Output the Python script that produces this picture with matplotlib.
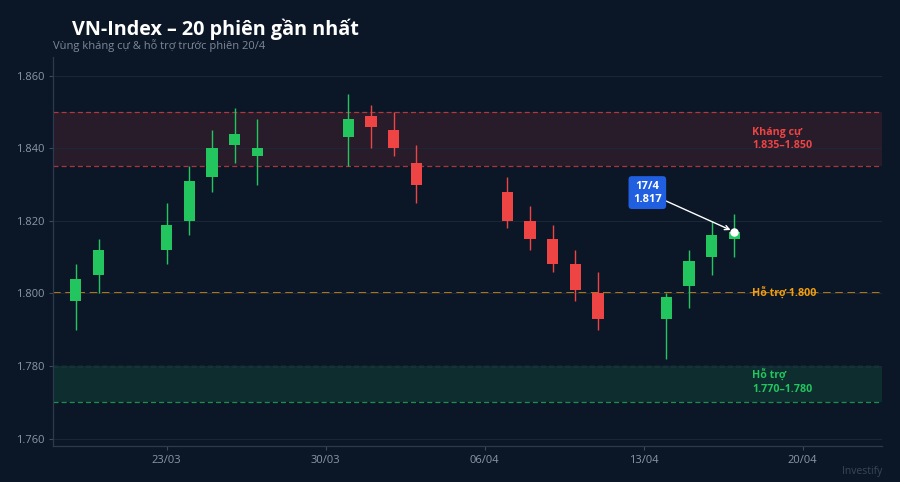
import matplotlib
matplotlib.use("Agg")
import matplotlib.pyplot as plt
import matplotlib.dates as mdates
from matplotlib.patches import Rectangle
import datetime as dt

plt.rcParams['font.family'] = ['Open Sans', 'DejaVu Sans']

# 20 sessions, OHLC
dates = ["2026-03-19", "2026-03-20", "2026-03-23", "2026-03-24", "2026-03-25",
         "2026-03-26", "2026-03-27", "2026-03-31", "2026-04-01", "2026-04-02",
         "2026-04-03", "2026-04-07", "2026-04-08", "2026-04-09", "2026-04-10",
         "2026-04-11", "2026-04-14", "2026-04-15", "2026-04-16", "2026-04-17"]
opens  = [1.798, 1.805, 1.812, 1.820, 1.832, 1.841, 1.838, 1.843, 1.849, 1.845,
          1.836, 1.828, 1.820, 1.815, 1.808, 1.800, 1.793, 1.802, 1.810, 1.815]
highs  = [1.808, 1.815, 1.825, 1.835, 1.845, 1.851, 1.848, 1.855, 1.852, 1.850,
          1.841, 1.832, 1.824, 1.819, 1.812, 1.806, 1.800, 1.812, 1.820, 1.822]
lows   = [1.790, 1.800, 1.808, 1.816, 1.828, 1.836, 1.830, 1.835, 1.840, 1.838,
          1.825, 1.818, 1.812, 1.806, 1.798, 1.790, 1.782, 1.796, 1.805, 1.810]
closes = [1.804, 1.812, 1.819, 1.831, 1.840, 1.844, 1.840, 1.848, 1.846, 1.840,
          1.830, 1.820, 1.815, 1.808, 1.801, 1.793, 1.799, 1.809, 1.816, 1.817]

resist_zone = (1.835, 1.850)
support_zone = (1.770, 1.780)
support_line = 1.800
yticks = [1.760, 1.780, 1.800, 1.820, 1.840, 1.860]
xtick_dates = ["2026-03-23", "2026-03-30", "2026-04-06", "2026-04-13", "2026-04-20"]

BG = '#0b1727'
GREEN = '#22c55e'
RED = '#ef4444'
AMBER = '#f59e0b'
TICK = '#8b97a8'

x = mdates.date2num([dt.datetime.fromisoformat(d) for d in dates])

fig = plt.figure(figsize=(9, 4.82), dpi=100, facecolor=BG)
ax = fig.add_axes([0.059, 0.075, 0.921, 0.807], facecolor=BG)

# zones
ax.axhspan(*resist_zone, color=RED, alpha=0.13, lw=0, zorder=0)
ax.axhspan(*support_zone, color=GREEN, alpha=0.13, lw=0, zorder=0)
for v in resist_zone:
    ax.axhline(v, color=RED, lw=0.9, ls=(0, (4, 2.5)), alpha=0.7, zorder=1)
for v in support_zone:
    ax.axhline(v, color=GREEN, lw=0.9, ls=(0, (4, 2.5)), alpha=0.7, zorder=1)
ax.axhline(support_line, color=AMBER, lw=1.1, ls=(0, (5, 3)), alpha=0.9, zorder=1)

# candles
w = 0.5
for xi, o, h, l, c in zip(x, opens, highs, lows, closes):
    col = GREEN if c >= o else RED
    ax.vlines(xi, l, h, color=col, lw=1.0, zorder=2)
    ax.add_patch(Rectangle((xi - w / 2, min(o, c)), w, max(abs(c - o), 0.0004),
                           facecolor=col, edgecolor='none', zorder=3))

# last close callout
ax.scatter([x[-1]], [closes[-1]], s=26, color='white', zorder=5)
ax.annotate("17/4\n1.817", xy=(x[-1], closes[-1]),
            xytext=(mdates.date2num(dt.datetime(2026, 4, 13, 4)), 1.8278),
            ha='center', va='center', color='white', fontsize=8, fontweight='bold',
            linespacing=1.25,
            bbox=dict(boxstyle='round,pad=0.4,rounding_size=0.3', fc='#1f5fe0', ec='none'),
            arrowprops=dict(arrowstyle='->', color='white', lw=1.0,
                            shrinkA=0, shrinkB=3),
            zorder=6)

# zone labels
lx = mdates.date2num(dt.datetime(2026, 4, 17, 19))
ax.text(lx, 1.8425, "Kháng cự\n1.835–1.850", color=RED, fontsize=7.7,
        fontweight='bold', va='center', ha='left', linespacing=1.3, zorder=4)
ax.text(lx, support_line, "Hỗ trợ 1.800", color=AMBER, fontsize=7.7,
        fontweight='bold', va='center', ha='left', zorder=4)
ax.text(lx, 1.7755, "Hỗ trợ\n1.770–1.780", color=GREEN, fontsize=7.7,
        fontweight='bold', va='center', ha='left', linespacing=1.3, zorder=4)

# axes
ax.set_xlim(mdates.date2num(dt.datetime(2026, 3, 18, 0)),
            mdates.date2num(dt.datetime(2026, 4, 23, 12)))
ax.set_ylim(1.758, 1.8652)
ax.set_yticks(yticks)
ax.set_yticklabels([f"{v:.3f}" for v in yticks])
ax.set_xticks(mdates.date2num([dt.datetime.fromisoformat(d) for d in xtick_dates]))
ax.xaxis.set_major_formatter(mdates.DateFormatter('%d/%m'))
ax.tick_params(colors='#3b4a5e', labelcolor=TICK, labelsize=8, length=3, width=0.8)
ax.grid(axis='y', color='#1b283a', lw=0.7, zorder=0)
for s in ['top', 'right']:
    ax.spines[s].set_visible(False)
for s in ['left', 'bottom']:
    ax.spines[s].set_color('#2c3a4d')
    ax.spines[s].set_linewidth(0.9)

fig.text(72 / 900, 1 - 35 / 482, "VN-Index – 20 phiên gần nhất", color='white',
         fontsize=14.2, fontweight='bold', ha='left', va='baseline')
fig.text(53 / 900, 1 - 49.5 / 482, "Vùng kháng cự & hỗ trợ trước phiên 20/4",
         color='#7d8899', fontsize=8, ha='left', va='baseline')
fig.text(882 / 900, 1 - 474 / 482, "Investify", color='#3a4759', fontsize=7.5,
         ha='right', va='baseline')

fig.savefig("out.png", dpi=100, facecolor=BG)
